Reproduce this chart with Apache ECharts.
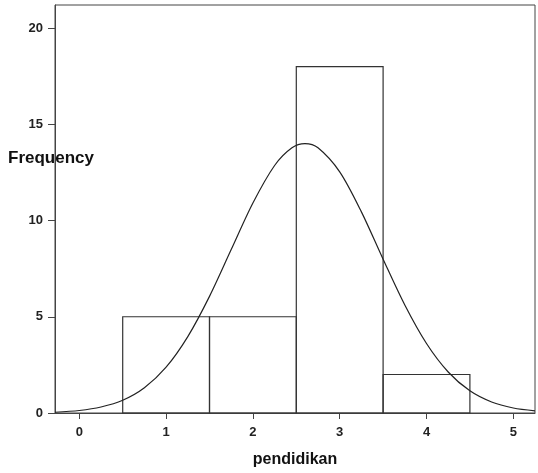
<!DOCTYPE html>
<html>
<head>
<meta charset="utf-8">
<script src="https://cdn.jsdelivr.net/npm/echarts@6/dist/echarts.min.js"></script>
<style>html,body{margin:0;padding:0;background:#fff;}#c{width:538px;height:473px;}</style>
</head>
<body>
<div id="c"></div>
<script>
// Histogram bins: [start, end, frequency]
var binStart = [0.5, 1.5, 2.5, 3.5];
var binEnd = [1.5, 2.5, 3.5, 4.5];
var binFreq = [5, 5, 18, 2];
// Normal curve
var curveX = [-0.28, 0, 0.25, 0.5, 0.75, 1.0, 1.25, 1.5, 1.75, 2.0, 2.25, 2.45, 2.6, 2.75, 3.0, 3.25, 3.5, 3.75, 4.0, 4.25, 4.5, 4.75, 5.0, 5.25];
var curveY = [0.04, 0.13, 0.31, 0.66, 1.31, 2.38, 3.97, 6.06, 8.49, 10.91, 12.86, 13.78, 14.0, 13.78, 12.53, 10.45, 7.99, 5.61, 3.61, 2.13, 1.15, 0.57, 0.26, 0.11];
var xTicks = [0, 1, 2, 3, 4, 5];
var yTicks = [0, 5, 10, 15, 20];

var bins = binStart.map(function (s, i) { return [s, binEnd[i], binFreq[i]]; });
var curve = curveX.map(function (x, i) { return [x, curveY[i]]; });

var chart = echarts.init(document.getElementById('c'), null, {renderer: 'canvas'});
var lineColor = '#333';
var font = '"Liberation Sans", Arial, sans-serif';
chart.setOption({
  animation: false,
  backgroundColor: '#fff',
  grid: {left: 55, top: 5, right: 3, bottom: 55, show: true, borderColor: '#444', borderWidth: 1, backgroundColor: 'transparent'},
  xAxis: {
    type: 'value', min: -0.28, max: 5.25,
    name: 'pendidikan', nameLocation: 'middle', nameGap: 39,
    nameTextStyle: {fontFamily: font, fontSize: 16, fontWeight: 'bold', color: '#111'},
    splitLine: {show: false},
    axisLine: {show: true, onZero: false, lineStyle: {color: '#444', width: 1}},
    axisTick: {show: true, length: 6, inside: false, customValues: xTicks, lineStyle: {color: '#444'}},
    axisLabel: {customValues: xTicks, margin: 13, fontFamily: font, fontSize: 13, fontWeight: 'bold', color: '#222'}
  },
  yAxis: {
    type: 'value', min: 0, max: 21.2,
    splitLine: {show: false},
    axisLine: {show: true, onZero: false, lineStyle: {color: '#444', width: 1}},
    axisTick: {show: true, length: 7, customValues: yTicks, lineStyle: {color: '#444'}},
    axisLabel: {customValues: yTicks, margin: 12, fontFamily: font, fontSize: 13, fontWeight: 'bold', color: '#222'}
  },
  graphic: [{
    type: 'text', left: 8, top: 150, z: 100,
    style: {text: 'Frequency', fontFamily: font, fontSize: 17, fontWeight: 'bold', fill: '#111'}
  }],
  series: [{
    type: 'custom',
    data: bins,
    renderItem: function (params, api) {
      var p0 = api.coord([api.value(0), 0]);
      var p1 = api.coord([api.value(1), api.value(2)]);
      return {
        type: 'rect',
        shape: {x: p0[0], y: p1[1], width: p1[0] - p0[0], height: p0[1] - p1[1]},
        style: {fill: 'none', stroke: lineColor, lineWidth: 1.2}
      };
    },
    encode: {x: [0, 1], y: 2}
  }, {
    type: 'line',
    data: curve,
    smooth: 0.3,
    symbol: 'none',
    lineStyle: {color: '#222', width: 1.2},
    z: 3
  }]
});
</script>
</body>
</html>
